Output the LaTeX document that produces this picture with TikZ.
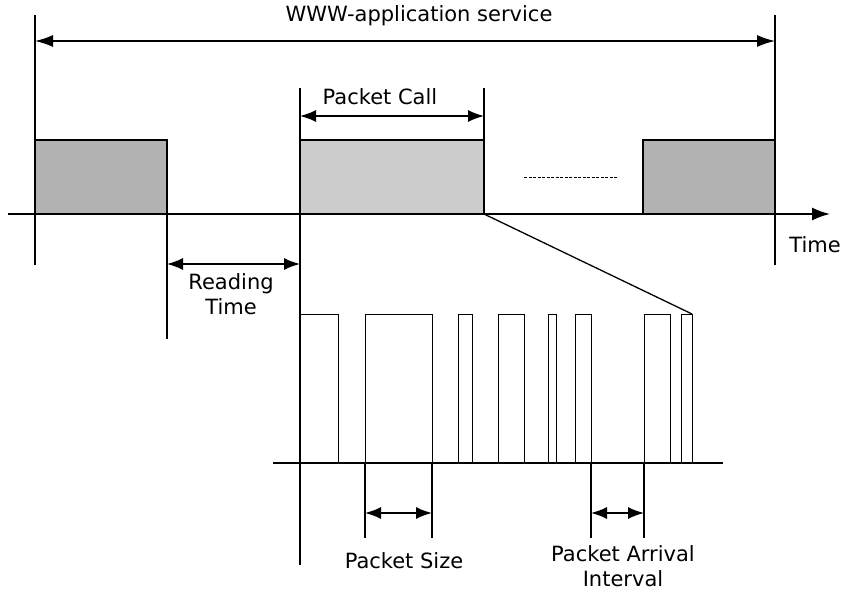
\documentclass[tikz,border=0pt]{standalone}
\usepackage{fontspec}
\setmainfont{DejaVu Sans}
\usetikzlibrary{arrows.meta}

\begin{document}
\begin{tikzpicture}[
  x=1pt, y=-1pt,
  font=\fontsize{21}{25}\selectfont,
  axis/.style={line width=1.7pt},
  tick/.style={line width=1.5pt},
  dim/.style={{Latex[length=16pt,width=12pt]}-{Latex[length=16pt,width=12pt]},
              line width=1.5pt},
  burst/.style={draw=black, line width=1.3pt, fill=gray!60},
  pulse/.style={draw=black, line width=1pt},
  lbl/.style={inner sep=0pt, anchor=base},
]
  \useasboundingbox (0,0) rectangle (842,591);

  % packet calls on the upper time axis
  \draw[burst] (35,140) rectangle (167,214);
  \draw[burst, fill=gray!40] (300,140) rectangle (484,214);
  \draw[burst] (643,140) rectangle (775,214);
  \draw[line width=1pt, dash pattern=on 3pt off 1.5pt] (524,177) -- (617,177);

  % upper time axis
  \coordinate (t0) at (8,214);
  \coordinate (t1) at (830,214);
  \draw[axis, -{Latex[length=18pt,width=13pt]}] (t0) -- (t1);
  \node[lbl] (time) at (815,252) {Time};

  % service span
  \draw[tick] (35,15) -- (35,265);
  \draw[tick] (775,15) -- (775,265);
  \coordinate (svc-l) at (35,41);
  \coordinate (svc-r) at (775,41);
  \draw[dim, {Latex[length=18pt,width=12pt]}-{Latex[length=18pt,width=12pt]}] (svc-l) -- (svc-r);
  \node[lbl] (service) at (419,22) {WWW-application service};

  % packet call span
  \draw[tick] (300,88) -- (300,565);
  \draw[tick] (484,88) -- (484,214);
  \coordinate (call-l) at (300,116);
  \coordinate (call-r) at (484,116);
  \draw[dim] (call-l) -- (call-r);
  \node[lbl] (call) at (380,105) {Packet Call};

  % reading time
  \draw[tick] (167,214) -- (167,339);
  \coordinate (read-l) at (167,264);
  \coordinate (read-r) at (300,264);
  \draw[dim] (read-l) -- (read-r);
  \node[inner sep=0pt, anchor=north, align=center] (reading) at (231,273) {Reading\\Time};

  % zoom into one packet call
  \coordinate (zoom-a) at (484,214);
  \coordinate (zoom-b) at (692,314);
  \draw[line width=1.3pt] (zoom-a) -- (zoom-b);

  % packets
  \draw[axis] (273,463) -- (723,463);
  \foreach \a/\b in {300/338, 365/432, 458/472, 498/524, 548/556, 575/591, 644/670, 681/692}
    \draw[pulse] (\a,463) |- (\b,314) -- (\b,463);

  % packet size
  \draw[tick] (365,463) -- (365,538);
  \draw[tick] (432,463) -- (432,538);
  \coordinate (size-l) at (365,513);
  \coordinate (size-r) at (432,513);
  \draw[dim] (size-l) -- (size-r);
  \node[lbl] (size) at (404,568) {Packet Size};

  % packet arrival interval
  \draw[tick] (591,463) -- (591,538);
  \draw[tick] (644,463) -- (644,538);
  \coordinate (gap-l) at (591,513);
  \coordinate (gap-r) at (644,513);
  \draw[dim] (gap-l) -- (gap-r);
  \node[inner sep=0pt, anchor=north, align=center] (arrival) at (623,545) {Packet Arrival\\Interval};
\end{tikzpicture}
\end{document}
